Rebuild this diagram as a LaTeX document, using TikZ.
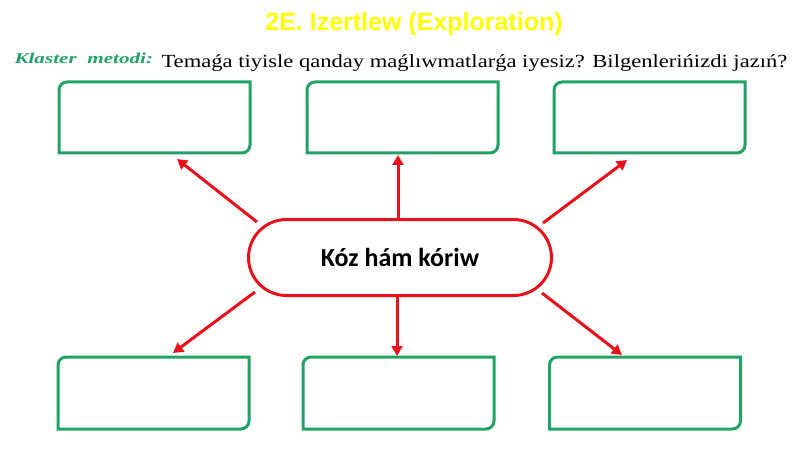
\documentclass[tikz,border=0pt]{standalone}
\usepackage{fontspec}
\setmainfont{Liberation Serif}
\newfontfamily\headfont{Liberation Sans}
\newfontfamily\pillfont{Carlito}
\usetikzlibrary{arrows.meta}
\definecolor{boxgreen}{HTML}{21A366}
\definecolor{linkred}{HTML}{E8111B}
\definecolor{headyellow}{HTML}{FFFF00}

\begin{document}
\begin{tikzpicture}[x=1pt, y=-1pt, line width=3pt,
    box/.style={minimum width=191pt, minimum height=71pt, inner sep=0pt, outer sep=0pt},
    link/.style={linkred, -{Triangle[length=10pt,width=11pt]}}]
  \useasboundingbox[fill=white] (0,0) rectangle (800,449);
  \node[anchor=base, text=headyellow, font=\headfont\bfseries\fontsize{25}{25}\selectfont] (title) at (414,31) {2E. Izertlew (Exploration)};
  \node[anchor=base west, inner sep=0pt, text=boxgreen, font=\bfseries\itshape\fontsize{15}{15}\selectfont] (klaster) at (13,64) {\scalebox{1.41}[1]{Klaster\ \ metodi:}};
  \node[anchor=base west, inner sep=0pt, font=\fontsize{18.5}{18.5}\selectfont] (question) at (160,67.5) {\scalebox{1.22}[1]{Temaǵa tiyisle qanday maǵlıwmatlarǵa iyesiz? Bilgenlerińizdi jazıń?}};
  % answer boxes
  \node[box] (tl) at (154.5,117.5) {};
  \node[box] (tm) at (402.5,117.5) {};
  \node[box] (tr) at (649.5,117.5) {};
  \node[box, minimum height=72pt] (bl) at (153.5,393) {};
  \node[box, minimum height=72pt] (bm) at (398.5,393) {};
  \node[box, minimum height=72pt] (br) at (645,393) {};
  \foreach \b in {tl,tm,tr,bl,bm,br}
    \draw[boxgreen] (\b.south west) -- ([yshift=-8pt]\b.north west) arc[start angle=180, end angle=90, radius=8pt]
      -- (\b.north east) -- ([yshift=8pt]\b.south east) arc[start angle=0, end angle=-90, radius=8pt] -- cycle;
  \node[draw=linkred, fill=white, rounded corners=38pt, minimum width=303pt, minimum height=76pt,
    font=\pillfont\bfseries\fontsize{26}{26}\selectfont] (pill) at (400,257.5) {Kóz hám kóriw};
  \path[link] ([xshift=10pt,yshift=-4pt]pill.north west) edge ([xshift=22.5pt,yshift=-6pt]tl.south)
    ([xshift=-2pt]pill.north) edge ([xshift=-4.5pt,yshift=-2pt]tm.south)
    ([xshift=-10pt,yshift=-5pt]pill.north east) edge ([xshift=-22.5pt,yshift=-7pt]tr.south)
    ([xshift=8pt,yshift=5pt]pill.south west) edge ([xshift=19.5pt,yshift=4pt]bl.north)
    ([xshift=-3pt]pill.south) edge ([xshift=-1.5pt,yshift=1pt]bm.north)
    ([xshift=-11pt,yshift=4pt]pill.south east) edge ([xshift=-23pt,yshift=2pt]br.north);
\end{tikzpicture}
\end{document}
